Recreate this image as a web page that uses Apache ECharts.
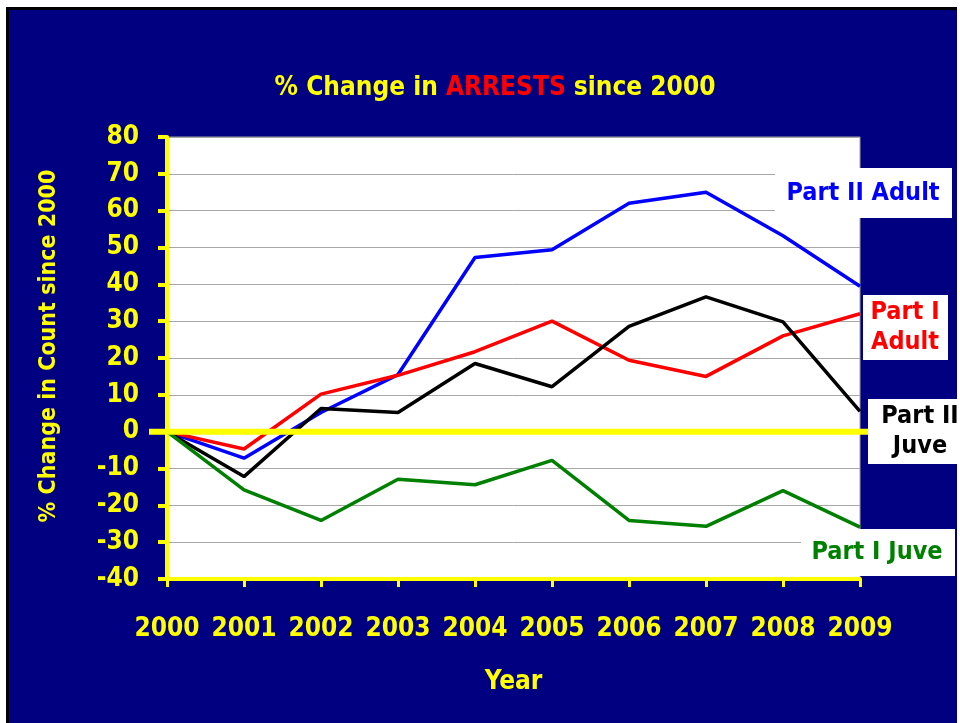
<!DOCTYPE html>
<html>
<head>
<meta charset="utf-8">
<script src="https://cdn.jsdelivr.net/npm/echarts@6/dist/echarts.min.js"></script>
<style>
  html, body { margin: 0; padding: 0; background: #fff; }
  .frame {
    position: absolute; left: 6px; top: 7px; width: 951px; height: 716px;
    box-sizing: border-box; background: #000080;
    border-left: 3px solid #000; border-top: 3px solid #000;
  }
  #main { position: absolute; left: 0; top: 0; width: 960px; height: 723px; }
</style>
</head>
<body>
<div class="frame"></div>
<div id="main"></div>
<script>
// years on the x axis
const years = ['2000', '2001', '2002', '2003', '2004', '2005', '2006', '2007', '2008', '2009']

// % change since 2000
const partIIAdult = [0, -7.2, 5.2, 15.5, 47.3, 49.4, 62, 65, 53.2, 39.5]
const partIAdult = [0, -4.7, 10.2, 15.3, 21.7, 30, 19.4, 15, 26, 32]
const partIIJuve = [0, -12.2, 6.3, 5.2, 18.5, 12.2, 28.6, 36.6, 29.8, 5.5]
const partIJuve = [0, -15.8, -24.1, -12.9, -14.4, -7.8, -24.1, -25.7, -16, -25.9]

const font = '"Comic Sans MS", "DejaVu Sans Condensed", "DejaVu Sans", sans-serif'
const yellow = '#ffff00'

var chartDom = document.getElementById('main')
var myChart = echarts.init(chartDom)

const line = (name, data, color) => ({
  name: name,
  type: 'line',
  data: data,
  symbol: 'none',
  lineStyle: { color: color, width: 3.5 },
  z: 3,
})

// white boxes with the series names on the right
const label = (x, y, w, h, lines, color, cx) => [
  {
    type: 'rect', z: 100,
    shape: { x: x, y: y, width: w, height: h },
    style: { fill: '#fff' },
  },
  {
    type: 'text', z: 101,
    x: cx, y: y + h / 2,
    style: {
      text: lines.join('\n'), fill: color, font: 'bold 25px ' + font,
      align: 'center', verticalAlign: 'middle', lineHeight: 30,
    },
  },
]

var option = {
  backgroundColor: 'transparent',
  title: {
    text: '{y|% Change in }{r|ARRESTS}{y| since 2000}',
    left: 490,
    top: 70,
    textAlign: 'center',
    textStyle: {
      rich: {
        y: { color: yellow, fontSize: 26, fontWeight: 'bold', fontFamily: font },
        r: { color: '#ff0000', fontSize: 26, fontWeight: 'bold', fontFamily: font },
      },
    },
  },
  grid: {
    left: 167,
    right: 100,
    top: 137,
    bottom: 144,
    show: true,
    backgroundColor: '#fff',
    borderColor: '#a0a0a0',
    borderWidth: 1,
  },
  xAxis: {
    type: 'category',
    data: years,
    boundaryGap: false,
    name: 'Year',
    nameLocation: 'middle',
    nameGap: 90,
    nameTextStyle: { color: yellow, fontSize: 26, fontWeight: 'bold', fontFamily: font },
    axisLine: { onZero: false, lineStyle: { color: yellow, width: 4 } },
    axisTick: { show: true, interval: 0, length: 8, lineStyle: { color: yellow, width: 3 } },
    axisLabel: {
      interval: 0, hideOverlap: false,
      color: yellow, fontSize: 26, fontWeight: 'bold', fontFamily: font, margin: 37,
    },
    splitLine: { show: false },
  },
  yAxis: {
    type: 'value',
    min: -40,
    max: 80,
    interval: 10,
    name: '% Change in Count since 2000',
    nameLocation: 'middle',
    nameRotate: 90,
    nameGap: 106,
    nameTextStyle: {
      color: yellow, fontSize: 23, fontWeight: 'bold', fontFamily: font,
      padding: [0, 0, 0, 24],
    },
    axisLine: { show: true, lineStyle: { color: yellow, width: 4 } },
    axisTick: { show: true, inside: false, length: 9, lineStyle: { color: yellow, width: 4 } },
    axisLabel: { color: yellow, fontSize: 26, fontWeight: 'bold', fontFamily: font, margin: 28 },
    splitLine: { show: true, lineStyle: { color: '#a8a8a8', width: 1 } },
  },
  series: [
    line('Part II Adult', partIIAdult, '#0000ff'),
    line('Part I Adult', partIAdult, '#ff0000'),
    line('Part II Juve', partIIJuve, '#000000'),
    line('Part I Juve', partIJuve, '#008000'),
  ],
  graphic: [].concat(
    label(775, 168, 177, 50, ['Part II Adult'], '#0000ff', 863),
    label(863, 295, 85, 65, ['Part I', 'Adult'], '#ff0000', 905),
    label(868, 399, 92, 65, ['Part II', 'Juve'], '#000000', 920),
    label(801, 529, 154, 47, ['Part I Juve'], '#008000', 877)
  ),
}

option && myChart.setOption(option)

// thick yellow zero line, running a little past both sides of the plot
const y0 = myChart.convertToPixel({ yAxisIndex: 0 }, 0)
myChart.setOption({
  graphic: option.graphic.concat([
    {
      type: 'line', z: 90,
      shape: { x1: 149, y1: y0, x2: 868, y2: y0 },
      style: { stroke: yellow, lineWidth: 6 },
    },
  ]),
})
</script>
</body>
</html>
